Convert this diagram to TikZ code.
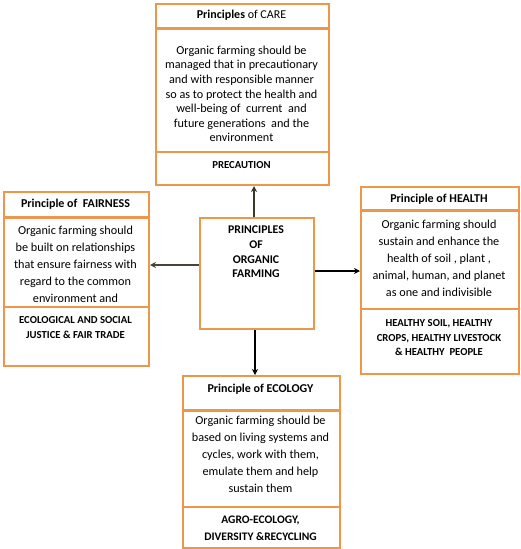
\documentclass[tikz,border=0pt]{standalone}
\usepackage{fontspec}
\setmainfont{Carlito}
\usetikzlibrary{arrows.meta}
\definecolor{org}{RGB}{238,150,76}
\definecolor{olive}{RGB}{58,56,40}
\definecolor{brn}{RGB}{74,68,52}
\tikzset{
  boxst/.style={draw=org, line width=2pt, anchor=north west, inner sep=0pt, fill=white},
  titlediv/.style={draw=org, line width=3pt},
  secdiv/.style={draw=org, line width=1.5pt},
  bodytxt/.style={align=center, inner sep=0pt, font=\fontsize{12.2}{17}\selectfont},
  titletxt/.style={align=center, inner sep=0pt, font=\fontsize{12}{13}\selectfont},
  labtxt/.style={align=center, inner sep=0pt, font=\fontsize{10.7}{14.5}\selectfont\bfseries},
  arr/.style={line width=2pt, -{Stealth[length=6pt,width=6pt]}}
}
\begin{document}
\begin{tikzpicture}[x=1pt,y=-1pt]
\useasboundingbox (0,0) rectangle (520,549);
% CARE
\node[boxst, minimum width=173pt, minimum height=181pt] (care) at (155,3) {};
\draw[titlediv] (care.west |- 0,28) -- (care.east |- 0,28);
\draw[secdiv] (care.west |- 0,152) -- (care.east |- 0,152);
\node[titletxt] (caret) at (241.5,15.5) {\textbf{Principles} of CARE};
\node[bodytxt, font=\fontsize{12.2}{14.6}\selectfont] (careb) at (241.5,94) {Organic farming should be\\managed that in precautionary\\and with responsible manner\\so as to protect the health and\\well-being of\ \ current\ \ and\\future generations\ \ and the\\environment};
\node[labtxt] (carel) at (241.5,165) {PRECAUTION};
% FAIRNESS
\node[boxst, minimum width=145pt, minimum height=174pt] (fair) at (3,191) {};
\draw[titlediv] (fair.west |- 0,217) -- (fair.east |- 0,217);
\draw[secdiv] (fair.west |- 0,307) -- (fair.east |- 0,307);
\node[titletxt] (fairt) at (75.5,204.5) {\textbf{Principle of\ \ FAIRNESS}};
\node[bodytxt] (fairb) at (75.5,264) {Organic farming should\\be built on relationships\\that ensure fairness with\\regard to the common\\environment and};
\node[labtxt] (fairl) at (75.5,327.5) {ECOLOGICAL AND SOCIAL\\JUSTICE \& FAIR TRADE};
% HEALTH
\node[boxst, minimum width=158pt, minimum height=187pt] (health) at (360,186) {};
\draw[titlediv] (health.west |- 0,210) -- (health.east |- 0,210);
\draw[secdiv] (health.west |- 0,309) -- (health.east |- 0,309);
\node[titletxt] (healtht) at (439,199) {\textbf{Principle of HEALTH}};
\node[bodytxt] (healthb) at (439,258) {Organic farming should\\sustain and enhance the\\health of soil , plant ,\\animal, human, and planet\\as one and indivisible};
\node[labtxt] (healthl) at (439,338) {HEALTHY SOIL, HEALTHY\\CROPS, HEALTHY LIVESTOCK\\\& HEALTHY\ \ PEOPLE};
% ECOLOGY
\node[boxst, minimum width=157pt, minimum height=172pt] (eco) at (182,375) {};
\draw[titlediv] (eco.west |- 0,410) -- (eco.east |- 0,410);
\draw[secdiv] (eco.west |- 0,507) -- (eco.east |- 0,507);
\node[titletxt] (ecot) at (260.5,389) {\textbf{Principle of ECOLOGY}};
\node[bodytxt] (ecob) at (260.5,454.5) {Organic farming should be\\based on living systems and\\cycles, work with them,\\emulate them and help\\sustain them};
\node[labtxt, font=\fontsize{11.5}{17}\selectfont\bfseries] (ecol) at (260.5,528.5) {AGRO-ECOLOGY,\\DIVERSITY \&RECYCLING};
% CENTER
\node[boxst, minimum width=114pt, minimum height=111pt] (center) at (199,217) {};
\node[align=center, inner sep=0pt, font=\fontsize{11.8}{14.6}\selectfont\bfseries] (centert) at (256,252) {PRINCIPLES\\OF\\ORGANIC\\FARMING};
% arrows
\coordinate (ux) at (254,0);
\coordinate (dx) at (255,0);
\coordinate (ly) at (0,265);
\coordinate (ry) at (0,271);
\draw[arr, olive] (ux |- center.north) -- (ux |- care.south);
\draw[arr, black] (dx |- center.south) -- (dx |- eco.north);
\draw[arr, brn] (center.west |- ly) -- (fair.east |- ly);
\draw[arr, black] (center.east |- ry) -- (health.west |- ry);
\end{tikzpicture}
\end{document}
